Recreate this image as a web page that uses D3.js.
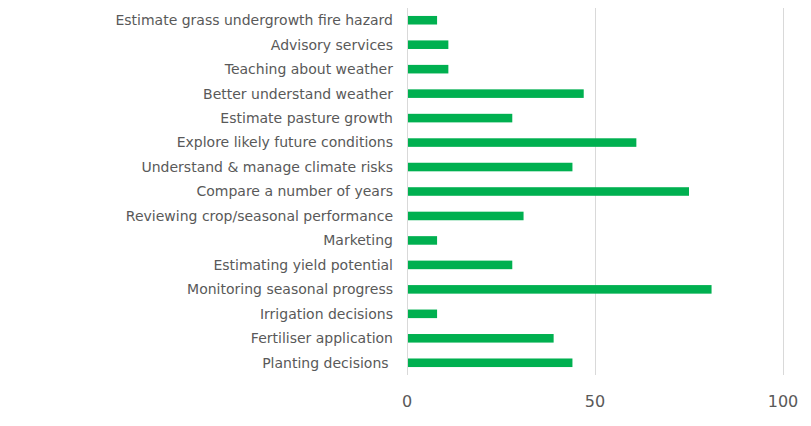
<!DOCTYPE html>
<html lang="en">
<head>
    <meta charset="utf-8"/>
    <title>Uses</title>
    <script src="https://d3js.org/d3.v7.min.js"></script>
    <style>
        body { margin: 0; background: #fff; }
        svg { display: block; }
        text { font-family: "DejaVu Sans", Verdana, sans-serif; fill: #595959; }
    </style>
</head>
<body>
<svg></svg>
<script>
    // top to bottom as in the picture
    const categories = [
        "Estimate grass undergrowth fire hazard",
        "Advisory services",
        "Teaching about weather",
        "Better understand weather",
        "Estimate pasture growth",
        "Explore likely future conditions",
        "Understand & manage climate risks",
        "Compare a number of years",
        "Reviewing crop/seasonal performance",
        "Marketing",
        "Estimating yield potential",
        "Monitoring seasonal progress",
        "Irrigation decisions",
        "Fertiliser application",
        "Planting decisions "
    ];
    const values = [8, 11, 11, 47, 28, 61, 44, 75, 31, 8, 28, 81, 8, 39, 44];
    const xTicks = [0, 50, 100];

    const width = 811, height = 426;
    const margin = {top: 8, right: 28, bottom: 51, left: 407};

    const svg = d3.select("svg").attr("width", width).attr("height", height);

    const x = d3.scaleLinear().domain([0, 100]).range([margin.left, width - margin.right]);
    const y = d3.scaleBand().domain(categories)
        .range([margin.top, height - margin.bottom])
        .paddingInner(0.65).paddingOuter(0.325);

    // gridlines
    svg.append("g").selectAll("line")
        .data(xTicks)
        .enter().append("line")
        .attr("x1", d => Math.round(x(d)) + 0.5)
        .attr("x2", d => Math.round(x(d)) + 0.5)
        .attr("y1", margin.top)
        .attr("y2", height - margin.bottom)
        .attr("stroke", "#d9d9d9")
        .attr("stroke-width", 1);

    svg.append("g").selectAll("rect")
        .data(values)
        .enter().append("rect")
        .attr("x", x(0) + 1)
        .attr("y", (d, i) => y(categories[i]))
        .attr("width", d => x(d) - x(0) - 1)
        .attr("height", y.bandwidth())
        .attr("fill", "#00b050");

    // category labels
    svg.append("g").selectAll("text")
        .data(categories)
        .enter().append("text")
        .attr("x", margin.left - 14)
        .attr("y", d => y(d) + y.bandwidth() / 2)
        .attr("dy", "0.35em")
        .attr("text-anchor", "end")
        .style("white-space", "pre")
        .style("font-size", "14px")
        .text(d => d);

    // x tick labels
    svg.append("g").selectAll("text")
        .data(xTicks)
        .enter().append("text")
        .attr("x", d => x(d))
        .attr("y", 407)
        .attr("text-anchor", "middle")
        .style("font-size", "16px")
        .text(d => d);
</script>
</body>
</html>
